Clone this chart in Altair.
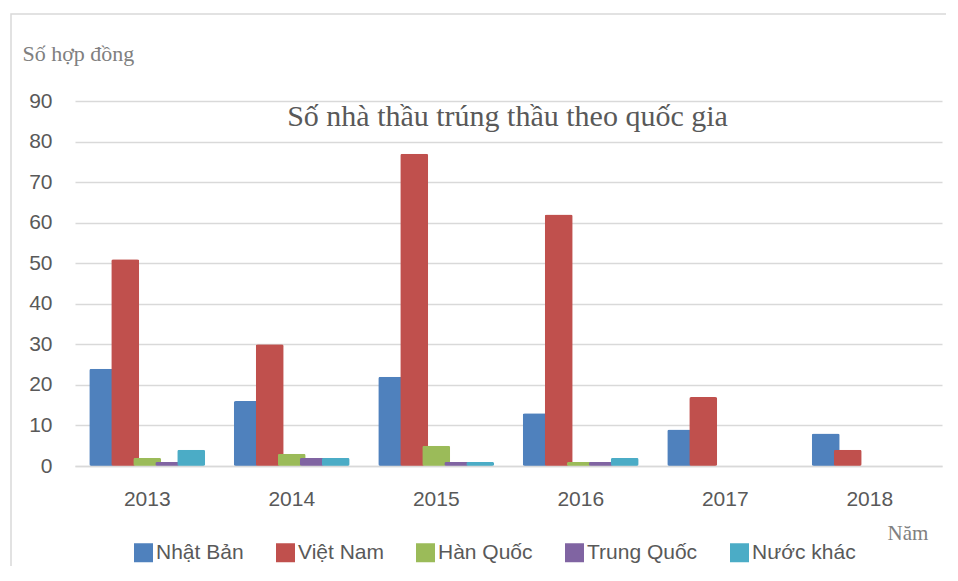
import altair as alt
import pandas as pd

years = ["2013", "2014", "2015", "2016", "2017", "2018"]
series = ["Nhật Bản", "Việt Nam", "Hàn Quốc", "Trung Quốc", "Nước khác"]
nhat_ban = [24, 16, 22, 13, 9, 8]
viet_nam = [51, 30, 77, 62, 17, 4]
han_quoc = [2, 3, 5, 1, 0, 0]
trung_quoc = [1, 2, 1, 1, 0, 0]
nuoc_khac = [4, 2, 1, 2, 0, 0]
colors = ["#4f81bd", "#c0504d", "#9bbb59", "#8064a2", "#4bacc6"]

values = [nhat_ban, viet_nam, han_quoc, trung_quoc, nuoc_khac]
rows = []
for s, vals in zip(series, values):
    for y, v in zip(years, vals):
        if v > 0:
            rows.append({"Năm": y, "Quốc gia": s, "Số hợp đồng": v})
df = pd.DataFrame(rows)

frame = alt.Chart(alt.Data(values=[{"k": 1}])).mark_rect(
    filled=False, stroke="#d9d9d9", strokeWidth=1.5
).encode(
    x=alt.value(-64), x2=alt.value(1000), y=alt.value(-87), y2=alt.value(800)
)

bars = alt.Chart(df).mark_bar(size=28, cornerRadius=2).encode(
    x=alt.X(
        "Năm:N",
        sort=years,
        scale=alt.Scale(domain=years, paddingInner=0.239, paddingOuter=0.1195),
        axis=alt.Axis(
            title="Năm",
            labelAngle=0,
            labelFont="Liberation Sans",
            labelFontSize=21,
            labelColor="#595959",
            labelPadding=22,
            ticks=False,
            domain=True,
            domainColor="#d9d9d9",
            domainWidth=1.5,
            zindex=1,
            titleFont="Liberation Serif",
            titleFontSize=21,
            titleFontWeight="normal",
            titleColor="#808080",
            titleX=812,
            titleY=73,
            titleAlign="left",
            titleBaseline="alphabetic",
        ),
    ),
    xOffset=alt.XOffset(
        "Quốc gia:N",
        sort=series,
        scale=alt.Scale(domain=series, paddingInner=0, paddingOuter=0),
    ),
    y=alt.Y(
        "Số hợp đồng:Q",
        scale=alt.Scale(domain=[0, 90], nice=False),
        axis=alt.Axis(
            title="Số hợp đồng",
            values=list(range(0, 91, 10)),
            grid=True,
            gridColor="#d9d9d9",
            gridWidth=1.5,
            domain=False,
            ticks=False,
            labelFont="Liberation Sans",
            labelFontSize=21,
            labelColor="#595959",
            labelPadding=23,
            titleAngle=0,
            titleFont="Liberation Serif",
            titleFontSize=22,
            titleFontWeight="normal",
            titleColor="#808080",
            titleX=-53,
            titleY=-41,
            titleAlign="left",
            titleBaseline="alphabetic",
        ),
    ),
    color=alt.Color(
        "Quốc gia:N",
        sort=series,
        scale=alt.Scale(domain=series, range=colors),
        legend=alt.Legend(
            title=None,
            orient="none",
            legendX=58,
            legendY=441,
            direction="horizontal",
            symbolType="square",
            symbolSize=361,
            symbolStrokeWidth=0,
            labelFont="Liberation Sans",
            labelFontSize=21,
            labelColor="#595959",
            labelOffset=2,
            columnPadding=31,
            padding=0,
        ),
    ),
)

chart = alt.layer(frame, bars).properties(
    width=867,
    height=365,
    autosize=alt.AutoSizeParams(type="none"),
    padding={"left": 67, "top": 93, "right": 4, "bottom": 100},
    title=alt.TitleParams(
        "Số nhà thầu trúng thầu theo quốc gia",
        font="Liberation Serif",
        fontSize=30,
        fontWeight="normal",
        color="#595959",
        anchor="middle",
        frame="group",
        offset=0,
        baseline="alphabetic",
        dy=143,
        dx=-1,
    ),
).configure_view(stroke=None)

chart.save("out.html", embed_options={"renderer": "svg", "actions": False})
